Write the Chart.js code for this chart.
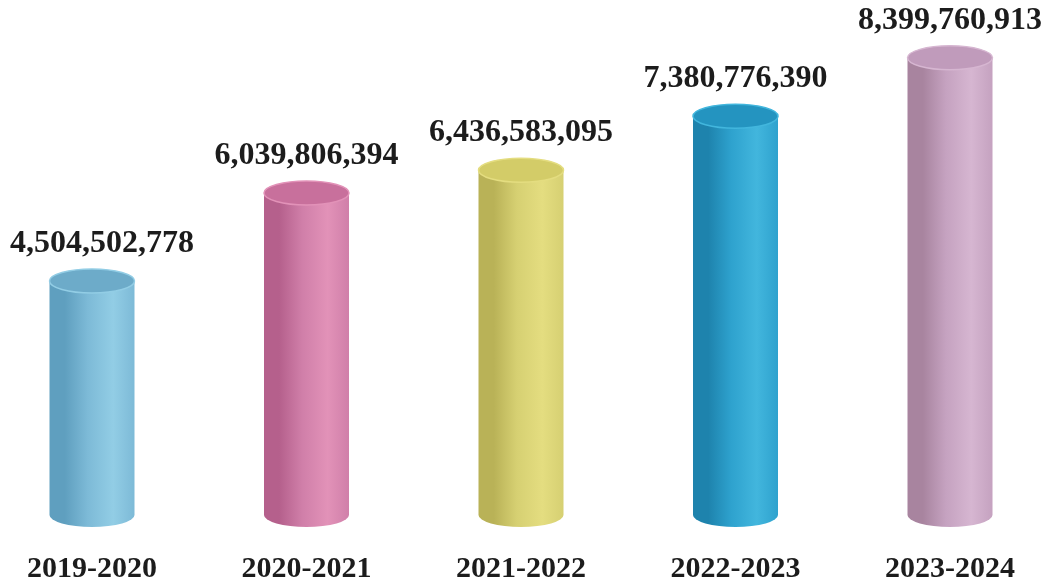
<!DOCTYPE html>
<html>
<head>
<meta charset="utf-8">
<script src="https://cdn.jsdelivr.net/npm/chart.js@4.4.1/dist/chart.umd.min.js"></script>
<style>
html,body{margin:0;padding:0;background:#ffffff;}
#wrap{width:1047px;height:585px;position:relative;}
</style>
</head>
<body>
<div id="wrap"><canvas id="c" width="1047" height="585"></canvas></div>
<script>
// ---- data ----
const categories = ['2019-2020', '2020-2021', '2021-2022', '2022-2023', '2023-2024'];
const values = [4504502778, 6039806394, 6436583095, 7380776390, 8399760913];

// ---- styles ----
const sideDark  = ['#5f9fbf', '#b5608c', '#b9b257', '#1e83ad', '#a8849f'];
const sideMid   = ['#7dbad7', '#d07fa9', '#d6d072', '#2ea2ce', '#c5a2c0'];
const sideLight = ['#92cde5', '#e292b8', '#e4dd80', '#42b6dd', '#d6b6d1'];
const topFill   = ['#6dabc9', '#c8709c', '#d3cc68', '#2494c0', '#c09bbb'];
const textFont = '"Liberation Serif", "Times New Roman", serif';

const cylinderPlugin = {
  id: 'cylinders',
  afterDatasetsDraw(chart) {
    const ctx = chart.ctx;
    const meta = chart.getDatasetMeta(0);
    const ry = 12;
    const W = chart.width;
    meta.data.forEach((el, i) => {
      const cx = el.x, top = el.y, bottom = el.base, rx = el.width / 2;
      ctx.save();
      const g = ctx.createLinearGradient(cx - rx, 0, cx + rx, 0);
      g.addColorStop(0, sideDark[i]);
      g.addColorStop(0.18, sideDark[i]);
      g.addColorStop(0.45, sideMid[i]);
      g.addColorStop(0.75, sideLight[i]);
      g.addColorStop(1, sideMid[i]);
      ctx.beginPath();
      ctx.moveTo(cx - rx, top + ry);
      ctx.lineTo(cx - rx, bottom - ry);
      ctx.ellipse(cx, bottom - ry, rx, ry, 0, Math.PI, 0, true);
      ctx.lineTo(cx + rx, top + ry);
      ctx.closePath();
      ctx.fillStyle = g;
      ctx.fill();
      // top cap
      ctx.beginPath();
      ctx.ellipse(cx, top + ry, rx, ry, 0, 0, Math.PI * 2);
      ctx.fillStyle = topFill[i];
      ctx.fill();
      ctx.lineWidth = 1.5;
      ctx.strokeStyle = sideLight[i];
      ctx.stroke();
      // value label (kept inside the canvas)
      ctx.fillStyle = '#1c1c1c';
      ctx.font = 'bold 32px ' + textFont;
      ctx.textAlign = 'center';
      ctx.textBaseline = 'alphabetic';
      const txt = values[i].toLocaleString('en-US');
      const half = ctx.measureText(txt).width / 2;
      const lx = Math.min(Math.max(cx, half + 10), W - half - 5);
      ctx.fillText(txt, lx, top - 17);
      // category label
      ctx.font = 'bold 30px ' + textFont;
      ctx.fillText(categories[i], cx, 577);
      ctx.restore();
    });
  }
};

new Chart(document.getElementById('c'), {
  type: 'bar',
  data: {
    datasets: [{
      data: values.map((v, i) => ({ x: i, y: v })),
      backgroundColor: 'rgba(0,0,0,0)',
      borderWidth: 0,
      barThickness: 85
    }]
  },
  options: {
    responsive: false,
    animation: false,
    layout: { padding: { left: 0, right: 0, top: 0, bottom: 58 } },
    plugins: { legend: { display: false }, tooltip: { enabled: false } },
    scales: {
      x: { type: 'linear', display: false, offset: false, min: -0.4289, max: 4.4522 },
      y: { display: false, min: 0, max: 9.2e9 }
    }
  },
  plugins: [cylinderPlugin]
});
</script>
</body>
</html>
